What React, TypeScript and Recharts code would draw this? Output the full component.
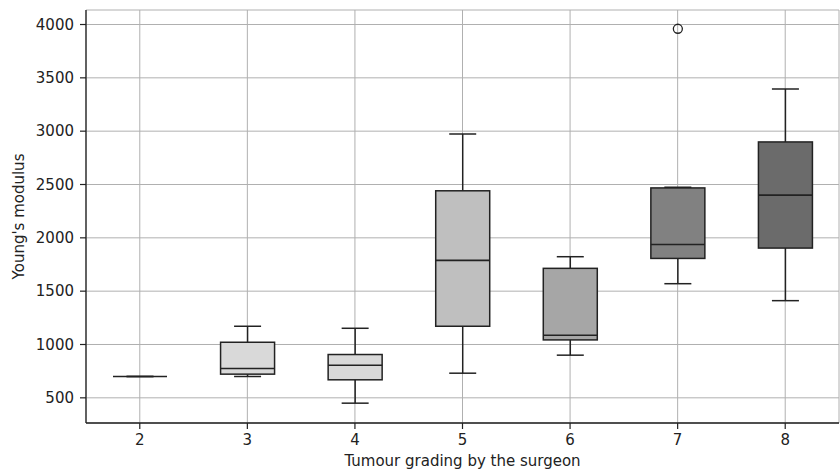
import React from 'react';
import { ComposedChart, Bar, XAxis, YAxis, CartesianGrid } from 'recharts';

const categories = ['2', '3', '4', '5', '6', '7', '8'];
const whiskerLow = [700, 700, 450, 731, 900, 1570, 1411];
const q1 = [700, 722, 669, 1171, 1043, 1807, 1904];
const median = [700, 775, 806, 1789, 1087, 1938, 2400];
const q3 = [700, 1021, 906, 2441, 1714, 2468, 2899];
const whiskerHigh = [700, 1171, 1152, 2974, 1823, 2475, 3395];
const outliers: number[][] = [[], [], [], [], [], [3960], []];
const fills = ['#e0e0e0', '#d9d9d9', '#d9d9d9', '#bfbfbf', '#a6a6a6', '#818181', '#6b6b6b'];
const yTicks = [500, 1000, 1500, 2000, 2500, 3000, 3500, 4000];

const YMIN = 264;
const YMAX = 4136;

const data = categories.map((c, i) => ({
  label: c,
  lo: whiskerLow[i],
  q1: q1[i],
  med: median[i],
  q3: q3[i],
  hi: whiskerHigh[i],
  out: outliers[i],
  fill: fills[i],
  span: [YMIN, YMAX],
}));

const FONT = '"DejaVu Sans", sans-serif';
const INK = '#222222';

const BoxShape = (props: any) => {
  const { x, y, width, height, payload } = props;
  if (payload == null) return null;
  const px = (v: number) => y + ((YMAX - v) / (YMAX - YMIN)) * height;
  const cx = x + width / 2;
  const bw = width * 0.5;
  const cw = width * 0.25;
  const yq1 = px(payload.q1);
  const yq3 = px(payload.q3);
  return (
    <g>
      <line x1={cx} x2={cx} y1={px(payload.lo)} y2={yq1} stroke={INK} strokeWidth={1.5} />
      <line x1={cx} x2={cx} y1={yq3} y2={px(payload.hi)} stroke={INK} strokeWidth={1.5} />
      <line x1={cx - cw / 2} x2={cx + cw / 2} y1={px(payload.lo)} y2={px(payload.lo)} stroke={INK} strokeWidth={1.5} />
      <line x1={cx - cw / 2} x2={cx + cw / 2} y1={px(payload.hi)} y2={px(payload.hi)} stroke={INK} strokeWidth={1.5} />
      <rect x={cx - bw / 2} y={yq3} width={bw} height={Math.max(yq1 - yq3, 0)} fill={payload.fill} stroke={INK} strokeWidth={1.5} />
      <line x1={cx - bw / 2} x2={cx + bw / 2} y1={px(payload.med)} y2={px(payload.med)} stroke={INK} strokeWidth={1.6} />
      {payload.out.map((o: number, k: number) => (
        <circle key={k} cx={cx} cy={px(o)} r={4.5} fill="none" stroke={INK} strokeWidth={1.3} />
      ))}
    </g>
  );
};

export default function App() {
  return (
    <div style={{ position: 'absolute', left: 0, top: 0, background: '#fff' }}>
      <ComposedChart
        width={840}
        height={471}
        data={data}
        margin={{ top: 10, right: 1, left: 0, bottom: 0 }}
        barCategoryGap="0%"
        barGap={0}
      >
        <CartesianGrid stroke="#b0b0b0" strokeWidth={1} />
        <XAxis
          dataKey="label"
          height={48}
          tickSize={6}
          tickMargin={5}
          tick={{ fill: INK, fontSize: 15, fontFamily: FONT }}
          axisLine={{ stroke: INK, strokeWidth: 1.3 }}
          tickLine={{ stroke: INK, strokeWidth: 1.2 }}
          label={{ value: 'Tumour grading by the surgeon', position: 'insideBottom', offset: 5, fill: INK, fontSize: 15, fontFamily: FONT }}
        />
        <XAxis xAxisId="top" dataKey="label" orientation="top" height={0} tick={false} tickLine={false} axisLine={{ stroke: INK, strokeWidth: 1.3 }} />
        <YAxis
          domain={[YMIN, YMAX]}
          allowDataOverflow
          ticks={yTicks}
          interval={0}
          width={86}
          tickSize={6}
          tickMargin={6}
          tick={{ fill: INK, fontSize: 15, fontFamily: FONT }}
          axisLine={{ stroke: INK, strokeWidth: 1.3 }}
          tickLine={{ stroke: INK, strokeWidth: 1.2 }}
          label={{ value: "Young's modulus", angle: -90, position: 'center', dx: -24, fill: INK, fontSize: 15, fontFamily: FONT }}
        />
        <YAxis yAxisId="right" orientation="right" width={0} domain={[YMIN, YMAX]} tick={false} tickLine={false} axisLine={{ stroke: INK, strokeWidth: 1.3 }} />
        <Bar dataKey="span" shape={BoxShape} isAnimationActive={false} />
      </ComposedChart>
    </div>
  );
}
